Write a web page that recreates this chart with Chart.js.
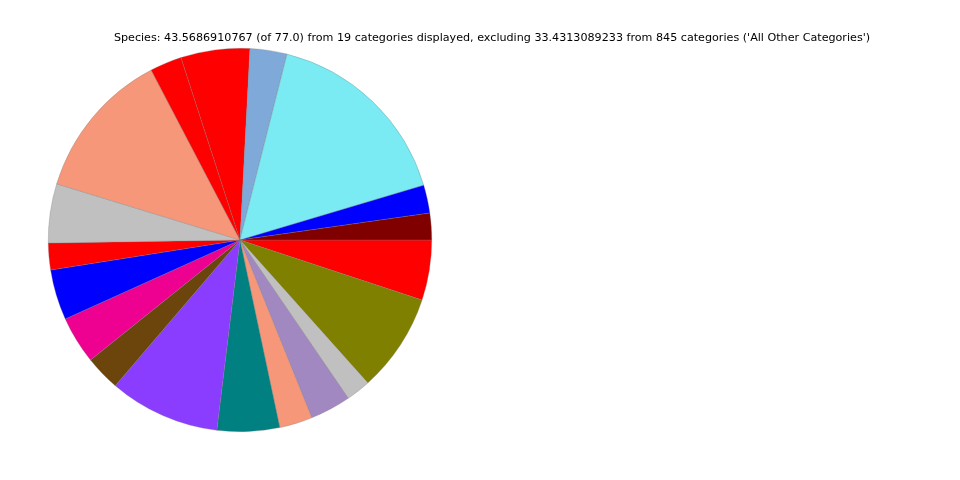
<!DOCTYPE html>
<html>
<head>
<meta charset="utf-8">
<script src="https://cdn.jsdelivr.net/npm/chart.js@4"></script>
<style>
  html, body { margin: 0; padding: 0; background: #fff; }
  #wrap { width: 960px; height: 480px; position: relative; }
</style>
</head>
<body>
<div id="wrap"><canvas id="pieChart" width="960" height="480"></canvas></div>
<script>
// slices in matplotlib order (counter-clockwise from 3 o'clock)
const categories = [
    "Cat 1", "Cat 2", "Cat 3", "Cat 4", "Cat 5", "Cat 6", "Cat 7", "Cat 8", "Cat 9", "Cat 10",
    "Cat 11", "Cat 12", "Cat 13", "Cat 14", "Cat 15", "Cat 16", "Cat 17", "Cat 18", "Cat 19"
];
const values = [
    0.98, 1.03, 7.16, 1.36, 2.53, 1.17, 5.49, 2.17, 0.98, 1.85,
    1.75, 1.29, 4.07, 2.29, 1.21, 1.50, 0.90, 3.62, 2.21
];
const sliceColors = [
    "#800000", "#0000ff", "#7aebf2", "#7fa9d8", "#ff0000", "#ff0000", "#f7977a", "#c0c0c0", "#ff0000", "#0000ff",
    "#ee0090", "#6b450b", "#8b3dff", "#008080", "#f7977a", "#a288c0", "#c0c0c0", "#808000", "#ff0000"
];
const titleText = "Species: 43.5686910767 (of 77.0) from 19 categories displayed, excluding 33.4313089233 from 845 categories ('All Other Categories')";

// Chart.js draws clockwise, so reverse to get the counter-clockwise look
const drawLabels = categories.slice().reverse();
const drawValues = values.slice().reverse();
const drawColors = sliceColors.slice().reverse();

const titlePlugin = {
    id: 'figTitle',
    afterDraw(chart) {
        const ctx = chart.ctx;
        ctx.save();
        ctx.font = '11.15px "DejaVu Sans"';
        ctx.fillStyle = '#000';
        ctx.textAlign = 'center';
        ctx.textBaseline = 'middle';
        ctx.fillText(titleText, 492, 38.5);
        ctx.restore();
    }
};

new Chart(document.getElementById('pieChart').getContext('2d'), {
    type: 'pie',
    data: {
        labels: drawLabels,
        datasets: [{
            data: drawValues,
            backgroundColor: drawColors,
            borderColor: 'rgba(120,120,120,0.6)',
            borderWidth: 0.5
        }]
    },
    options: {
        responsive: false,
        animation: false,
        rotation: 90,
        layout: { padding: { left: 48, right: 528, top: 48, bottom: 48 } },
        plugins: {
            legend: { display: false },
            title: { display: false },
            tooltip: { enabled: false }
        }
    },
    plugins: [titlePlugin]
});
</script>
</body>
</html>
